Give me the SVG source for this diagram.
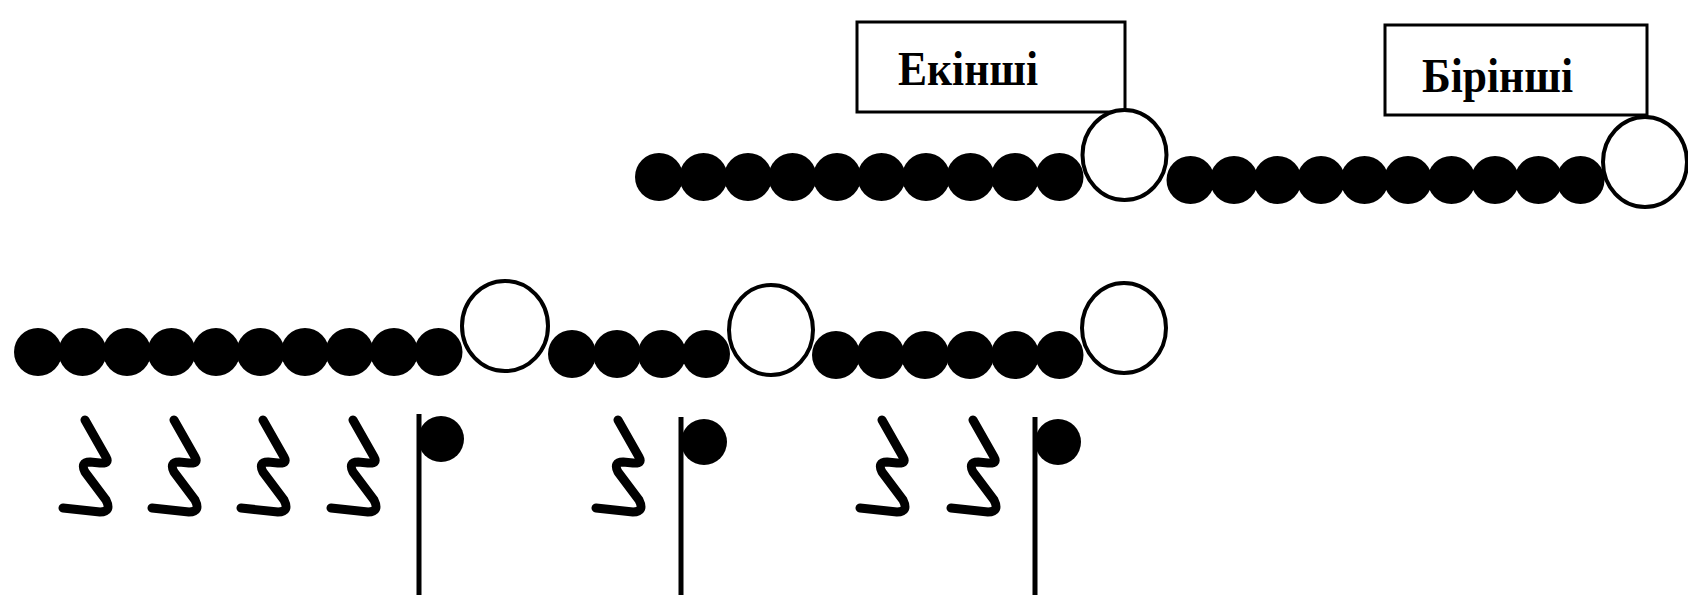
<svg xmlns="http://www.w3.org/2000/svg" xmlns:xlink="http://www.w3.org/1999/xlink" width="1688" height="595" viewBox="0 0 1688 595">
<style>
.bg{fill:#fff}
.box{fill:#fff;stroke:#000;stroke-width:3}
.lbl{font-family:"Liberation Serif","Times New Roman",serif;font-size:48px;font-weight:bold;fill:#000}
.dot{fill:#000}
.ring{fill:#fff;stroke:#000;stroke-width:4}
.rest{fill:none;stroke:#000;stroke-width:9;stroke-linecap:round;stroke-linejoin:round}
.stem{stroke:#000;stroke-width:5}
.head{fill:#000}
</style>
<defs>
<path id="rest" class="rest" d="M22,420 L43,457 Q47,464 37,463 L27,462 Q17,462 22,472 L43,500 Q49,512 37,512 L0,508"/>
<circle id="d" r="24" class="dot"/>
</defs>
<rect class="bg" width="1688" height="595"/>

<g id="top-row-left">
<use xlink:href="#d" x="659" y="177"/>
<use xlink:href="#d" x="703.5" y="177"/>
<use xlink:href="#d" x="748" y="177"/>
<use xlink:href="#d" x="792.5" y="177"/>
<use xlink:href="#d" x="837" y="177"/>
<use xlink:href="#d" x="881.5" y="177"/>
<use xlink:href="#d" x="926" y="177"/>
<use xlink:href="#d" x="970.5" y="177"/>
<use xlink:href="#d" x="1015" y="177"/>
<use xlink:href="#d" x="1059.5" y="177"/>
</g>
<g id="top-row-right">
<use xlink:href="#d" x="1190.5" y="180"/>
<use xlink:href="#d" x="1234" y="180"/>
<use xlink:href="#d" x="1277.5" y="180"/>
<use xlink:href="#d" x="1321" y="180"/>
<use xlink:href="#d" x="1364.5" y="180"/>
<use xlink:href="#d" x="1408" y="180"/>
<use xlink:href="#d" x="1451.5" y="180"/>
<use xlink:href="#d" x="1495" y="180"/>
<use xlink:href="#d" x="1538.5" y="180"/>
<use xlink:href="#d" x="1580.5" y="180"/>
</g>
<g id="box-ekinshi">
<rect class="box" x="857" y="22" width="268" height="90"/>
<text class="lbl" x="898" y="85" textLength="140" lengthAdjust="spacingAndGlyphs">Екінші</text>
</g>
<g id="box-birinshi">
<rect class="box" x="1385" y="25" width="262" height="90"/>
<text class="lbl" x="1422" y="92" textLength="151" lengthAdjust="spacingAndGlyphs">Бірінші</text>
</g>
<g id="ring-top-1"><ellipse class="ring" cx="1124.5" cy="155" rx="42" ry="45"/></g>
<g id="ring-top-2"><ellipse class="ring" cx="1645" cy="162" rx="42" ry="45"/></g>

<g id="bottom-row-1">
<use xlink:href="#d" x="38" y="352"/>
<use xlink:href="#d" x="82.5" y="352"/>
<use xlink:href="#d" x="127" y="352"/>
<use xlink:href="#d" x="171.5" y="352"/>
<use xlink:href="#d" x="216" y="352"/>
<use xlink:href="#d" x="260.5" y="352"/>
<use xlink:href="#d" x="305" y="352"/>
<use xlink:href="#d" x="349.5" y="352"/>
<use xlink:href="#d" x="394" y="352"/>
<use xlink:href="#d" x="438.5" y="352"/>
</g>
<g id="bottom-row-2">
<use xlink:href="#d" x="572" y="354"/>
<use xlink:href="#d" x="617" y="354"/>
<use xlink:href="#d" x="662" y="354"/>
<use xlink:href="#d" x="706" y="354"/>
</g>
<g id="bottom-row-3">
<use xlink:href="#d" x="836" y="355"/>
<use xlink:href="#d" x="880.5" y="355"/>
<use xlink:href="#d" x="925" y="355"/>
<use xlink:href="#d" x="970" y="355"/>
<use xlink:href="#d" x="1015" y="355"/>
<use xlink:href="#d" x="1059.5" y="355"/>
</g>
<g id="ring-bottom-1"><ellipse class="ring" cx="505" cy="326" rx="43" ry="45"/></g>
<g id="ring-bottom-2"><ellipse class="ring" cx="771" cy="330" rx="42" ry="45"/></g>
<g id="ring-bottom-3"><ellipse class="ring" cx="1124" cy="328" rx="42" ry="45"/></g>

<g id="rests">
<use xlink:href="#rest" x="63"/>
<use xlink:href="#rest" x="152"/>
<use xlink:href="#rest" x="241"/>
<use xlink:href="#rest" x="331"/>
<use xlink:href="#rest" x="596"/>
<use xlink:href="#rest" x="860"/>
<use xlink:href="#rest" x="951"/>
</g>
<g id="note-1">
<line class="stem" x1="419" y1="414" x2="419" y2="595"/>
<circle class="head" cx="441" cy="439" r="23"/>
</g>
<g id="note-2">
<line class="stem" x1="681" y1="417" x2="681" y2="595"/>
<circle class="head" cx="704" cy="442" r="23"/>
</g>
<g id="note-3">
<line class="stem" x1="1035" y1="417" x2="1035" y2="595"/>
<circle class="head" cx="1058" cy="442" r="23"/>
</g>
</svg>
